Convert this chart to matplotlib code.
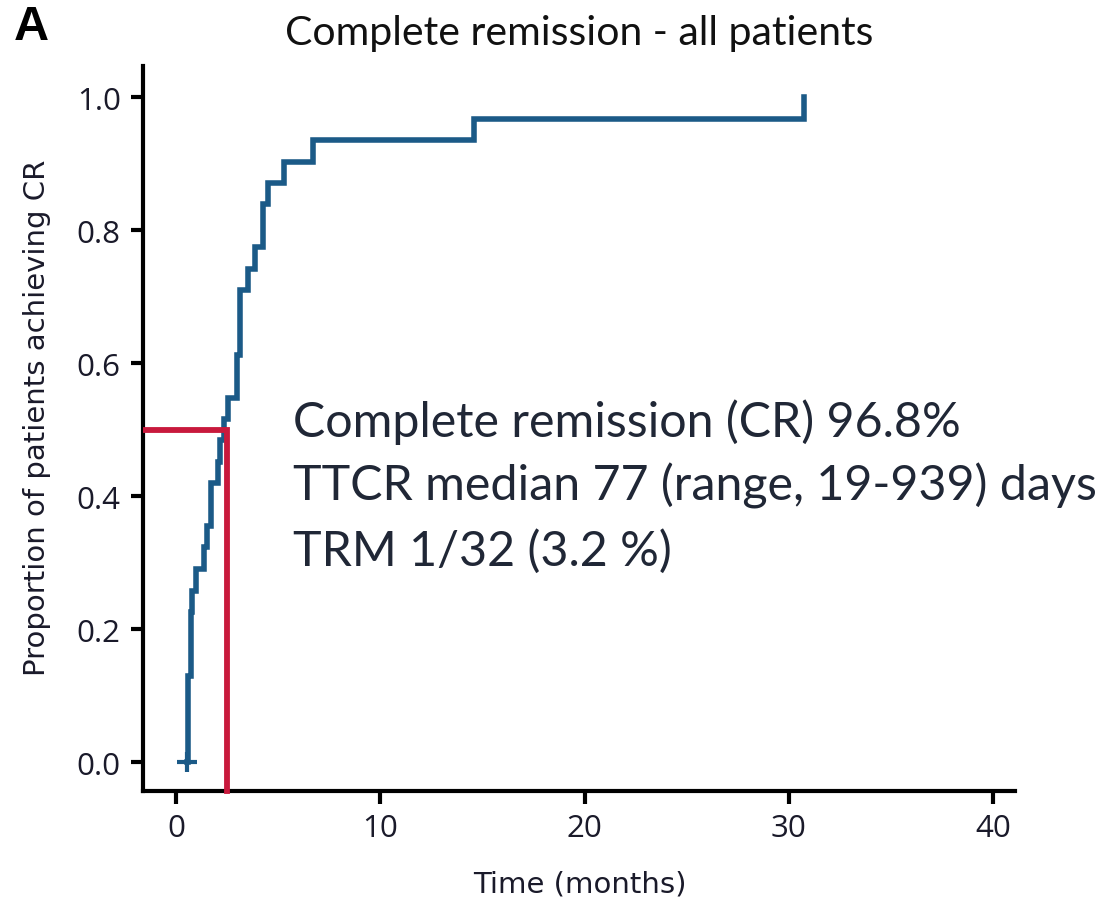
import matplotlib
matplotlib.use("Agg")
import matplotlib.pyplot as plt

# ---- data ----
event_times = [0.52, 0.60, 0.72, 0.80, 0.96, 1.39, 1.53, 1.70, 2.04, 2.15, 2.35, 2.53,
               3.00, 3.12, 3.52, 3.87, 4.24, 4.50, 5.29, 6.69, 14.59, 30.74]
cum_cr = [0.000, 0.129, 0.226, 0.258, 0.290, 0.323, 0.355, 0.419, 0.452, 0.484, 0.516, 0.548,
          0.613, 0.710, 0.742, 0.774, 0.839, 0.871, 0.903, 0.935, 0.968, 1.000]
censor_times = [0.52]
censor_vals = [0.0]
median_time = 2.48
median_level = 0.5

xticks = [0, 10, 20, 30, 40]
yticks = [0.0, 0.2, 0.4, 0.6, 0.8, 1.0]
ytick_labels = ["0.0", "0.2", "0.4", "0.6", "0.8", "1.0"]

title = "Complete remission - all patients"
panel = "A"
xlabel = "Time (months)"
ylabel = "Proportion of patients achieving CR"
notes = ["Complete remission (CR) 96.8%",
         "TTCR median 77 (range, 19-939) days",
         "TRM 1/32 (3.2 %)"]

BLUE = "#1B5A87"
RED = "#C8193C"
TXT = "#202736"

W, H = 1101, 904
fig = plt.figure(figsize=(W / 100, H / 100), dpi=100)
ax = fig.add_axes([143 / W, (H - 792) / H, (1015 - 143) / W, (792 - 67) / H])

x0, x1 = -1.615, 41.07
y0, y1 = -0.0436, 1.047
ax.set_xlim(x0, x1)
ax.set_ylim(y0, y1)

ax.step(event_times, cum_cr, where="post", color=BLUE, lw=4.0, solid_joinstyle="miter",
        zorder=3)
ax.plot(censor_times, censor_vals, marker="+", ms=14, mew=3.0, color=BLUE, ls="none",
        zorder=4)

# median lines
ax.plot([x0, median_time], [median_level, median_level], color=RED, lw=4.2, zorder=5,
        solid_capstyle="butt", clip_on=False)
ax.plot([median_time, median_time], [y0, median_level], color=RED, lw=4.2, zorder=5,
        solid_capstyle="projecting", clip_on=False)

for s in ["top", "right"]:
    ax.spines[s].set_visible(False)
for s in ["left", "bottom"]:
    ax.spines[s].set_linewidth(3.0)
    ax.spines[s].set_color("black")

ax.set_xticks(xticks)
ax.set_yticks(yticks)
ax.set_yticklabels(ytick_labels)
ax.tick_params(axis="both", length=9, width=3, direction="out", labelsize=22.5, pad=7,
               labelcolor="#1a1a2a")
for lab in ax.get_xticklabels() + ax.get_yticklabels():
    lab.set_family(["Open Sans", "DejaVu Sans"])

cond = ["Liberation Sans Narrow", "DejaVu Sans"]
fig.text(37 / W, (H - 418) / H, ylabel, rotation=90, ha="center", va="center",
         fontsize=21, family=cond, color="#1a1a2a")
fig.text(580 / W, (H - 885) / H, xlabel, ha="center", va="center",
         fontsize=21, family=cond, color="#1a1a2a")

fig.text(579 / W, (H - 33) / H, title, ha="center", va="center", fontsize=29.5,
         family=["Lato", "DejaVu Sans"], color="#111111")
fig.text(14 / W, (H - 28) / H, panel, ha="left", va="center", fontsize=35,
         fontweight="bold", family=["Liberation Sans", "DejaVu Sans"], color="black")

baselines = [437, 501, 566]
for line, b in zip(notes, baselines):
    fig.text(293 / W, (H - b) / H, line, ha="left", va="baseline", fontsize=34.8,
             family=["Lato", "DejaVu Sans"], color=TXT)

fig.savefig("out.png", dpi=100)
